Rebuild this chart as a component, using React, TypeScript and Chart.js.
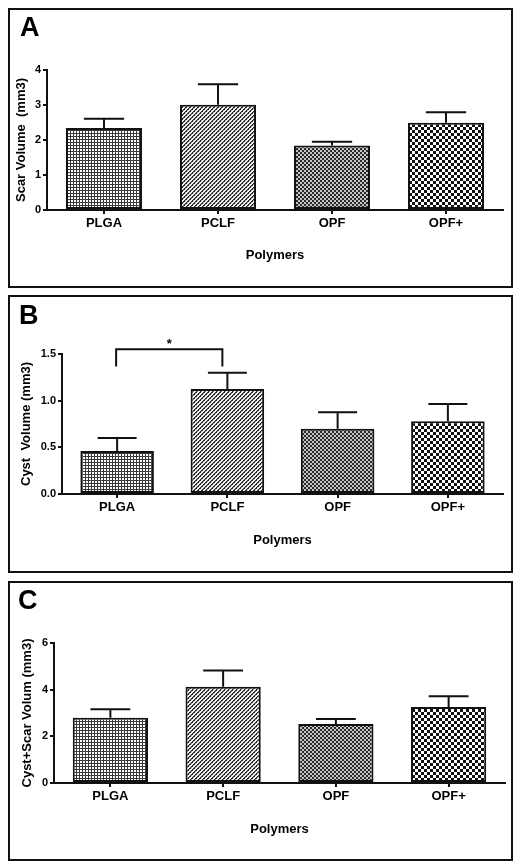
import React, { useEffect, useRef } from "react";
import { Chart, registerables } from "chart.js";

Chart.register(...registerables);

const FONT = "'Liberation Sans', Arial, Helvetica, sans-serif";
Chart.defaults.font.family = FONT;

// ---- data ----
const categories = ["PLGA", "PCLF", "OPF", "OPF+"];
const xAxisTitle = "Polymers";

const scarMeans = [2.34, 3.01, 1.84, 2.49];
const scarErrors = [0.27, 0.58, 0.11, 0.3];
const scarTicks = { min: 0, max: 4, step: 1, decimals: 0 };

const cystMeans = [0.46, 1.125, 0.7, 0.78];
const cystErrors = [0.14, 0.175, 0.175, 0.185];
const cystTicks = { min: 0, max: 1.5, step: 0.5, decimals: 1 };
const cystBracketPair = [0, 1];
const cystBracketLevels = [1.55, 1.365]; // bar top, leg ends
const cystBracketLabel = "*";

const totalMeans = [2.8, 4.12, 2.53, 3.26];
const totalErrors = [0.36, 0.7, 0.21, 0.46];
const totalTicks = { min: 0, max: 6, step: 2, decimals: 0 };

// ---- patterns ----
function makePattern(size: number, paint: (x: number, y: number) => string) {
  const c = document.createElement("canvas");
  c.width = size;
  c.height = size;
  const ctx = c.getContext("2d")!;
  for (let y = 0; y < size; y++) {
    for (let x = 0; x < size; x++) {
      ctx.fillStyle = paint(x, y);
      ctx.fillRect(x, y, 1, 1);
    }
  }
  const target = document.createElement("canvas").getContext("2d")!;
  return target.createPattern(c, "repeat")!;
}

function buildPatterns() {
  return [
    // PLGA: fine grid
    makePattern(3, (x, y) => (x === 0 || y === 0 ? "#3a3a3a" : "#ffffff")),
    // PCLF: diagonal stair hatch
    makePattern(4, (x, y) => {
      const d = (x + y) % 4;
      if (d === 0) return "#262626";
      if (d === 1) return (x % 2 === 0) ? "#262626" : "#8a8a8a";
      return "#f4f4f4";
    }),
    // OPF: fine dense checker
    makePattern(4, (x, y) =>
      (Math.floor(x / 2) + Math.floor(y / 2)) % 2 === 0 ? "#2a2a2a" : "#c4c4c4"
    ),
    // OPF+: coarse checker
    makePattern(6, (x, y) =>
      (Math.floor(x / 3) + Math.floor(y / 3)) % 2 === 0 ? "#111111" : "#ffffff"
    ),
  ];
}

type PanelProps = {
  letter: string;
  top: number;
  height: number;
  yTitle: string;
  means: number[];
  errors: number[];
  ticks: { min: number; max: number; step: number; decimals: number };
  yWidth: number;
  padTop: number;
  padRight: number;
  xHeight: number;
  yTitlePad: number;
  xTitlePad: number;
  letterLeft: number;
  letterTop: number;
  bracket?: { pair: number[]; levels: number[]; label: string };
};

const errorBarPlugin = {
  id: "errorBars",
  afterDatasetsDraw(chart: any, _args: any, opts: any) {
    const ctx = chart.ctx;
    const y = chart.scales.y;
    const meta = chart.getDatasetMeta(0);
    const errs: number[] = opts.errors || [];
    const means: number[] = opts.means || [];
    ctx.save();
    ctx.strokeStyle = "#111";
    ctx.lineWidth = 2;
    meta.data.forEach((bar: any, i: number) => {
      const top = y.getPixelForValue(means[i] + errs[i]);
      const half = bar.width * 0.265;
      ctx.beginPath();
      ctx.moveTo(bar.x, bar.y);
      ctx.lineTo(bar.x, top);
      ctx.moveTo(bar.x - half, top);
      ctx.lineTo(bar.x + half, top);
      ctx.stroke();
    });
    const br = opts.bracket;
    if (br) {
      const a = meta.data[br.pair[0]];
      const b = meta.data[br.pair[1]];
      const yTop = y.getPixelForValue(br.levels[0]);
      const yLeg = y.getPixelForValue(br.levels[1]);
      const x1 = a.x - 1;
      const x2 = b.x - 5;
      ctx.beginPath();
      ctx.moveTo(x1, yLeg);
      ctx.lineTo(x1, yTop);
      ctx.lineTo(x2, yTop);
      ctx.lineTo(x2, yLeg);
      ctx.stroke();
      ctx.fillStyle = "#000";
      ctx.font = `bold 13px ${FONT}`;
      ctx.textAlign = "center";
      ctx.textBaseline = "alphabetic";
      ctx.fillText(br.label, (x1 + x2) / 2, yTop - 1);
    }
    ctx.restore();
  },
};

function Panel(p: PanelProps) {
  const ref = useRef<HTMLCanvasElement | null>(null);
  const canvasH = p.height - 4;
  const canvasW = 501;
  useEffect(() => {
    if (!ref.current) return;
    const patterns = buildPatterns();
    const bold = (size: number) => ({ family: FONT, size, weight: "bold" as const });
    const chart = new Chart(ref.current, {
      type: "bar",
      data: {
        labels: categories,
        datasets: [
          {
            data: p.means,
            backgroundColor: patterns as any,
            borderColor: "#111",
            borderWidth: 2,
            borderSkipped: false,
            barPercentage: 0.667,
            categoryPercentage: 1,
          },
        ],
      },
      plugins: [errorBarPlugin],
      options: {
        animation: false,
        responsive: false,
        maintainAspectRatio: false,
        devicePixelRatio: 1,
        layout: { padding: { left: 0, right: p.padRight, top: p.padTop, bottom: 0 } },
        plugins: {
          legend: { display: false },
          tooltip: { enabled: false },
          errorBars: { means: p.means, errors: p.errors, bracket: p.bracket },
        } as any,
        scales: {
          x: {
            type: "category",
            offset: true,
            grid: {
              display: true,
              drawOnChartArea: false,
              drawTicks: true,
              tickLength: 4,
              offset: false,
              color: "#111",
              lineWidth: 2,
            },
            border: { display: true, color: "#111", width: 2 },
            ticks: { color: "#000", font: bold(13), padding: 2, maxRotation: 0, autoSkip: false },
            title: {
              display: true,
              text: xAxisTitle,
              color: "#000",
              font: bold(13),
              padding: { top: 0, bottom: p.xTitlePad },
            },
            afterFit: (s: any) => {
              s.height = p.xHeight;
            },
          },
          y: {
            min: p.ticks.min,
            max: p.ticks.max,
            grid: {
              display: true,
              drawOnChartArea: false,
              drawTicks: true,
              tickLength: 4,
              color: "#111",
              lineWidth: 2,
            },
            border: { display: true, color: "#111", width: 2 },
            ticks: {
              stepSize: p.ticks.step,
              color: "#000",
              font: bold(11),
              padding: 2,
              callback: (v: any) => Number(v).toFixed(p.ticks.decimals),
            },
            title: {
              display: true,
              text: p.yTitle,
              color: "#000",
              font: bold(13),
              padding: { top: p.yTitlePad, bottom: 0 },
            },
            afterFit: (s: any) => {
              s.width = p.yWidth;
            },
          },
        },
      } as any,
    });
    return () => chart.destroy();
  }, []);

  return (
    <div
      style={{
        position: "absolute",
        left: 0,
        top: p.top,
        width: 505,
        height: p.height,
        boxSizing: "border-box",
        border: "2px solid #111",
        background: "#fff",
      }}
    >
      <canvas
        ref={ref}
        width={canvasW}
        height={canvasH}
        style={{ position: "absolute", left: 0, top: 0, width: canvasW, height: canvasH }}
      />
      <div
        style={{
          position: "absolute",
          left: p.letterLeft,
          top: p.letterTop,
          font: `bold 27px ${FONT}`,
          lineHeight: 1,
          color: "#000",
        }}
      >
        {p.letter}
      </div>
    </div>
  );
}

export default function App() {
  return (
    <div style={{ position: "relative", width: 505, height: 853, background: "#fff" }}>
      <Panel
        letter="A"
        top={0}
        height={280}
        yTitle="Scar Volume  (mm3)"
        means={scarMeans}
        errors={scarErrors}
        ticks={scarTicks}
        yWidth={37}
        padTop={60}
        padRight={8}
        xHeight={76}
        yTitlePad={4}
        xTitlePad={23}
        letterLeft={10}
        letterTop={3.5}
      />
      <Panel
        letter="B"
        top={287}
        height={278}
        yTitle="Cyst  Volume (mm3)"
        means={cystMeans}
        errors={cystErrors}
        ticks={cystTicks}
        yWidth={52}
        padTop={57}
        padRight={8}
        xHeight={77}
        yTitlePad={9}
        xTitlePad={23}
        letterLeft={9}
        letterTop={5}
        bracket={{ pair: cystBracketPair, levels: cystBracketLevels, label: cystBracketLabel }}
      />
      <Panel
        letter="C"
        top={573}
        height={280}
        yTitle="Cyst+Scar Volum (mm3)"
        means={totalMeans}
        errors={totalErrors}
        ticks={totalTicks}
        yWidth={44}
        padTop={60}
        padRight={6}
        xHeight={76}
        yTitlePad={10}
        xTitlePad={22}
        letterLeft={8}
        letterTop={3.5}
      />
    </div>
  );
}
